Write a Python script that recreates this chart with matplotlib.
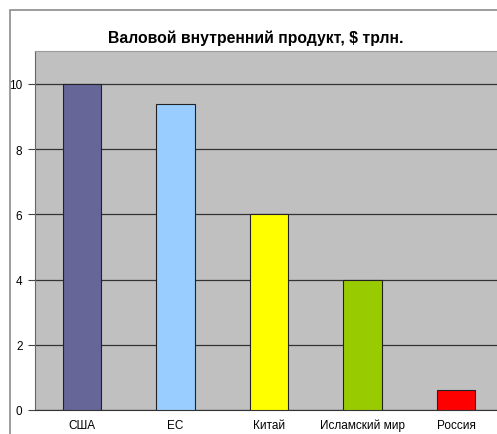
import matplotlib
matplotlib.use("Agg")
import matplotlib.pyplot as plt
from matplotlib.patches import Rectangle

categories = ["США", "ЕС", "Китай", "Исламский мир", "Россия"]
values = [10, 9.4, 6, 4, 0.6]
colors = ["#666699", "#99CCFF", "#FFFF00", "#99CC00", "#FF0000"]
yticks = [0, 2, 4, 6, 8, 10]
title = "Валовой внутренний продукт, $ трлн."

plt.rcParams['font.family'] = ['Liberation Sans', 'DejaVu Sans']

W, H = 497, 435
fig = plt.figure(figsize=(W / 100, H / 100), dpi=100)
fig.patch.set_facecolor("white")

# outer chart-area border
fig.patches.append(Rectangle((10 / W, -0.1), 1.2, 1 - 11 / H + 0.1,
                             transform=fig.transFigure, fill=False,
                             edgecolor="#8c8c8c", linewidth=1.2))

left, right, bottom, top = 35, 503, 411, 52
ax = fig.add_axes([left / W, 1 - bottom / H, (right - left) / W, (bottom - top) / H])
ax.set_facecolor("#C0C0C0")

x = list(range(len(categories)))
ax.bar(x, values, width=0.41, color=colors, edgecolor="#222222", linewidth=0.8, zorder=3)

ax.set_xlim(-0.5, len(categories) - 0.5)
ax.set_ylim(0, (bottom - top) / 32.6)
ax.set_yticks(yticks)
ax.set_yticklabels([str(v) for v in yticks], fontsize=8.5)
ax.set_xticks(x)
ax.set_xticklabels(categories, fontsize=8.5, va="baseline")
ax.tick_params(axis='x', length=0, pad=13)
ax.tick_params(axis='y', length=5, width=0.8, color="#444444", pad=4)
ax.yaxis.grid(True, color="#333333", linewidth=0.9, zorder=1)
ax.set_axisbelow(True)

ax.spines["right"].set_visible(False)
ax.spines["top"].set_color("#9a9a9a")
ax.spines["left"].set_color("#666666")
ax.spines["bottom"].set_color("#333333")

fig.text(256 / W, 1 - 38 / H, title, ha="center", va="center",
         fontsize=11.3, fontweight="bold")

fig.savefig("out.png", dpi=100)
